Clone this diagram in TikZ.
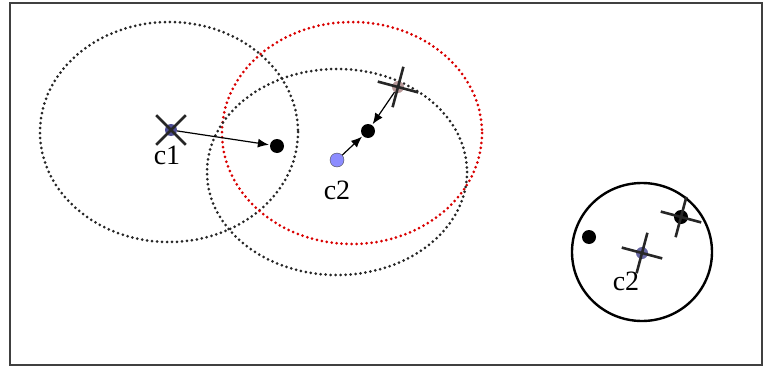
\documentclass[tikz,border=0pt]{standalone}
\usepackage{fontspec}
\setmainfont{Liberation Serif}
\usepackage{tikz}
\usetikzlibrary{arrows.meta, shapes.misc}

\begin{document}
\begin{tikzpicture}[
        x=1pt, y=-1pt,
        every node/.style={font=\fontsize{28}{32}\selectfont},
        cluster/.style={draw=black!85, line width=3pt, dash pattern=on 0pt off 5pt, line cap=round},
        oldcluster/.style={cluster, draw=red!85!black},
        point/.style={circle, fill=black, inner sep=0pt, minimum size=14pt},
        newcenter/.style={circle, draw=black!70, fill=blue!45, inner sep=0pt, minimum size=14pt},
        centroid/.style={cross out, draw=black!85, line width=2.6pt, inner sep=0pt, minimum size=27pt},
        hub/.style={circle, inner sep=0pt, minimum size=12pt},
        arrow/.style={-{Latex[length=11pt,width=9pt]}, line width=1.2pt, shorten >=1pt}
    ]
%
    % cadre
    \draw[line width=1.2pt, black!75] (10,3) rectangle (762,365);
    \useasboundingbox (0,0) rectangle (764,367);
%
    % Clusters
    \draw[cluster] (169,132) ellipse [x radius=129, y radius=110];
    \draw[oldcluster] (352,133) ellipse [x radius=130, y radius=111];
    \draw[cluster] (337,172) ellipse [x radius=130, y radius=103];
    \draw[line width=2.4pt] (642,252) ellipse [x radius=70, y radius=69];
%
    % Cluster c1
    \node[hub, fill=blue!40!black!70] (c1) at (171,130) {};
    \node[centroid] (x1) at (c1) {};
    \node[anchor=north] (lc1) at (167,142) {c1};
    \node[point] (p1) at (277,146) {};
    \draw[arrow] (c1) -- (p1);
%
    % Cluster c2
    \node[newcenter] (c2) at (337,160) {};
    \node[anchor=north] (lc2) at (337,177) {c2};
    \node[point] (p2) at (368,131) {};
    \node[hub, fill=red!30!black!40] (old) at (398,87) {};
    \node[centroid, rotate=30] (x2) at (old) {};
    \draw[arrow] (c2) -- (p2);
    \draw[arrow] (old) -- (p2);
%
    % Cluster final
    \node[point] (p3) at (589,237) {};
    \node[hub, fill=blue!40!black!60] (c3) at (642,253) {};
    \node[centroid, rotate=30] (x3) at (c3) {};
    \node[anchor=north] (lc3) at (626,268) {c2};
    \node[point] (p4) at (681,217) {};
    \node[centroid, rotate=30] (x4) at (p4) {};
%
\end{tikzpicture}
\end{document}
